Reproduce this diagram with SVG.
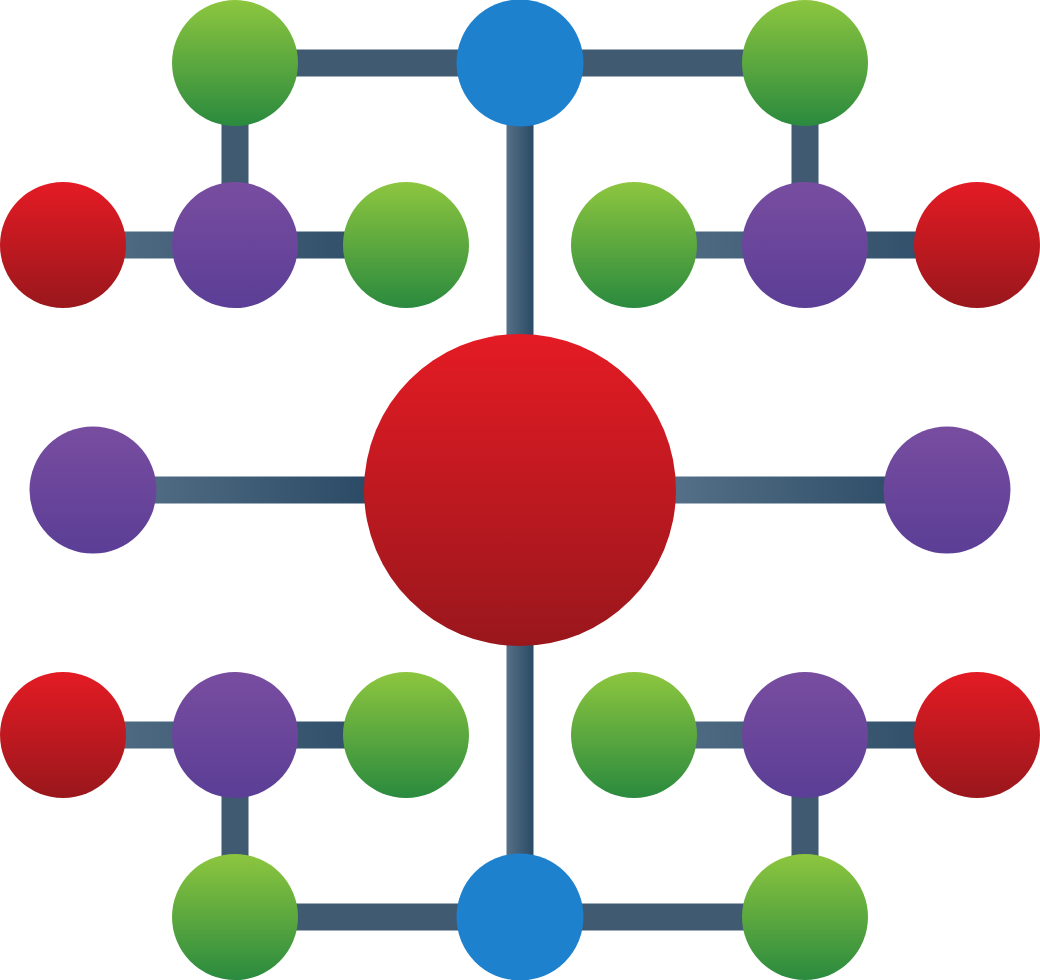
<svg xmlns="http://www.w3.org/2000/svg" width="1040" height="980" viewBox="0 0 1040 980">
  <defs>
    <linearGradient id="gGreen" x1="0" y1="0" x2="0" y2="1">
      <stop offset="0" stop-color="#8dc63f"/>
      <stop offset="1" stop-color="#2a8a3e"/>
    </linearGradient>
    <linearGradient id="gPurple" x1="0" y1="0" x2="0" y2="1">
      <stop offset="0" stop-color="#784da0"/>
      <stop offset="1" stop-color="#5b3e96"/>
    </linearGradient>
    <linearGradient id="gRed" x1="0" y1="0" x2="0" y2="1">
      <stop offset="0" stop-color="#e41b24"/>
      <stop offset="1" stop-color="#99171c"/>
    </linearGradient>
    <linearGradient id="gLine" x1="0" y1="0" x2="1" y2="0">
      <stop offset="0" stop-color="#557088"/>
      <stop offset="1" stop-color="#2b4a65"/>
    </linearGradient>
    <style>
      .line { fill: url(#gLine); }
      .flat { fill: #3f5a71; }
      .green { fill: url(#gGreen); }
      .purple { fill: url(#gPurple); }
      .red { fill: url(#gRed); }
      .blue { fill: #1e81ce; }
    </style>
  </defs>

  <g id="connectors">
    <rect class="flat" x="235" y="49.5" width="570" height="27"/>
    <rect class="flat" x="235" y="903.5" width="570" height="27"/>
    <rect class="flat" x="221.5" y="63" width="27" height="182"/>
    <rect class="flat" x="791.5" y="63" width="27" height="182"/>
    <rect class="flat" x="221.5" y="735" width="27" height="182"/>
    <rect class="flat" x="791.5" y="735" width="27" height="182"/>
    <rect class="line" x="506.5" y="63" width="27" height="854"/>
    <rect class="line" x="63" y="231.5" width="343" height="27"/>
    <rect class="line" x="634" y="231.5" width="343" height="27"/>
    <rect class="line" x="120" y="476.5" width="250" height="27"/>
    <rect class="line" x="670" y="476.5" width="250" height="27"/>
    <rect class="line" x="63" y="721.5" width="343" height="27"/>
    <rect class="line" x="634" y="721.5" width="343" height="27"/>
  </g>

  <g id="node-top-left"><circle class="green" cx="235" cy="63" r="63"/></g>
  <g id="node-top-center"><circle class="blue" cx="520" cy="63" r="63.5"/></g>
  <g id="node-top-right"><circle class="green" cx="805" cy="63" r="63"/></g>

  <g id="node-r2-1"><circle class="red" cx="63" cy="245" r="63"/></g>
  <g id="node-r2-2"><circle class="purple" cx="235" cy="245" r="63"/></g>
  <g id="node-r2-3"><circle class="green" cx="406" cy="245" r="63"/></g>
  <g id="node-r2-4"><circle class="green" cx="634" cy="245" r="63"/></g>
  <g id="node-r2-5"><circle class="purple" cx="805" cy="245" r="63"/></g>
  <g id="node-r2-6"><circle class="red" cx="977" cy="245" r="63"/></g>

  <g id="node-mid-left"><circle class="purple" cx="93" cy="490" r="63.5"/></g>
  <g id="node-center"><circle class="red" cx="520" cy="490" r="156"/></g>
  <g id="node-mid-right"><circle class="purple" cx="947" cy="490" r="63.5"/></g>

  <g id="node-r4-1"><circle class="red" cx="63" cy="735" r="63"/></g>
  <g id="node-r4-2"><circle class="purple" cx="235" cy="735" r="63"/></g>
  <g id="node-r4-3"><circle class="green" cx="406" cy="735" r="63"/></g>
  <g id="node-r4-4"><circle class="green" cx="634" cy="735" r="63"/></g>
  <g id="node-r4-5"><circle class="purple" cx="805" cy="735" r="63"/></g>
  <g id="node-r4-6"><circle class="red" cx="977" cy="735" r="63"/></g>

  <g id="node-bottom-left"><circle class="green" cx="235" cy="917" r="63"/></g>
  <g id="node-bottom-center"><circle class="blue" cx="520" cy="917" r="63.5"/></g>
  <g id="node-bottom-right"><circle class="green" cx="805" cy="917" r="63"/></g>
</svg>
